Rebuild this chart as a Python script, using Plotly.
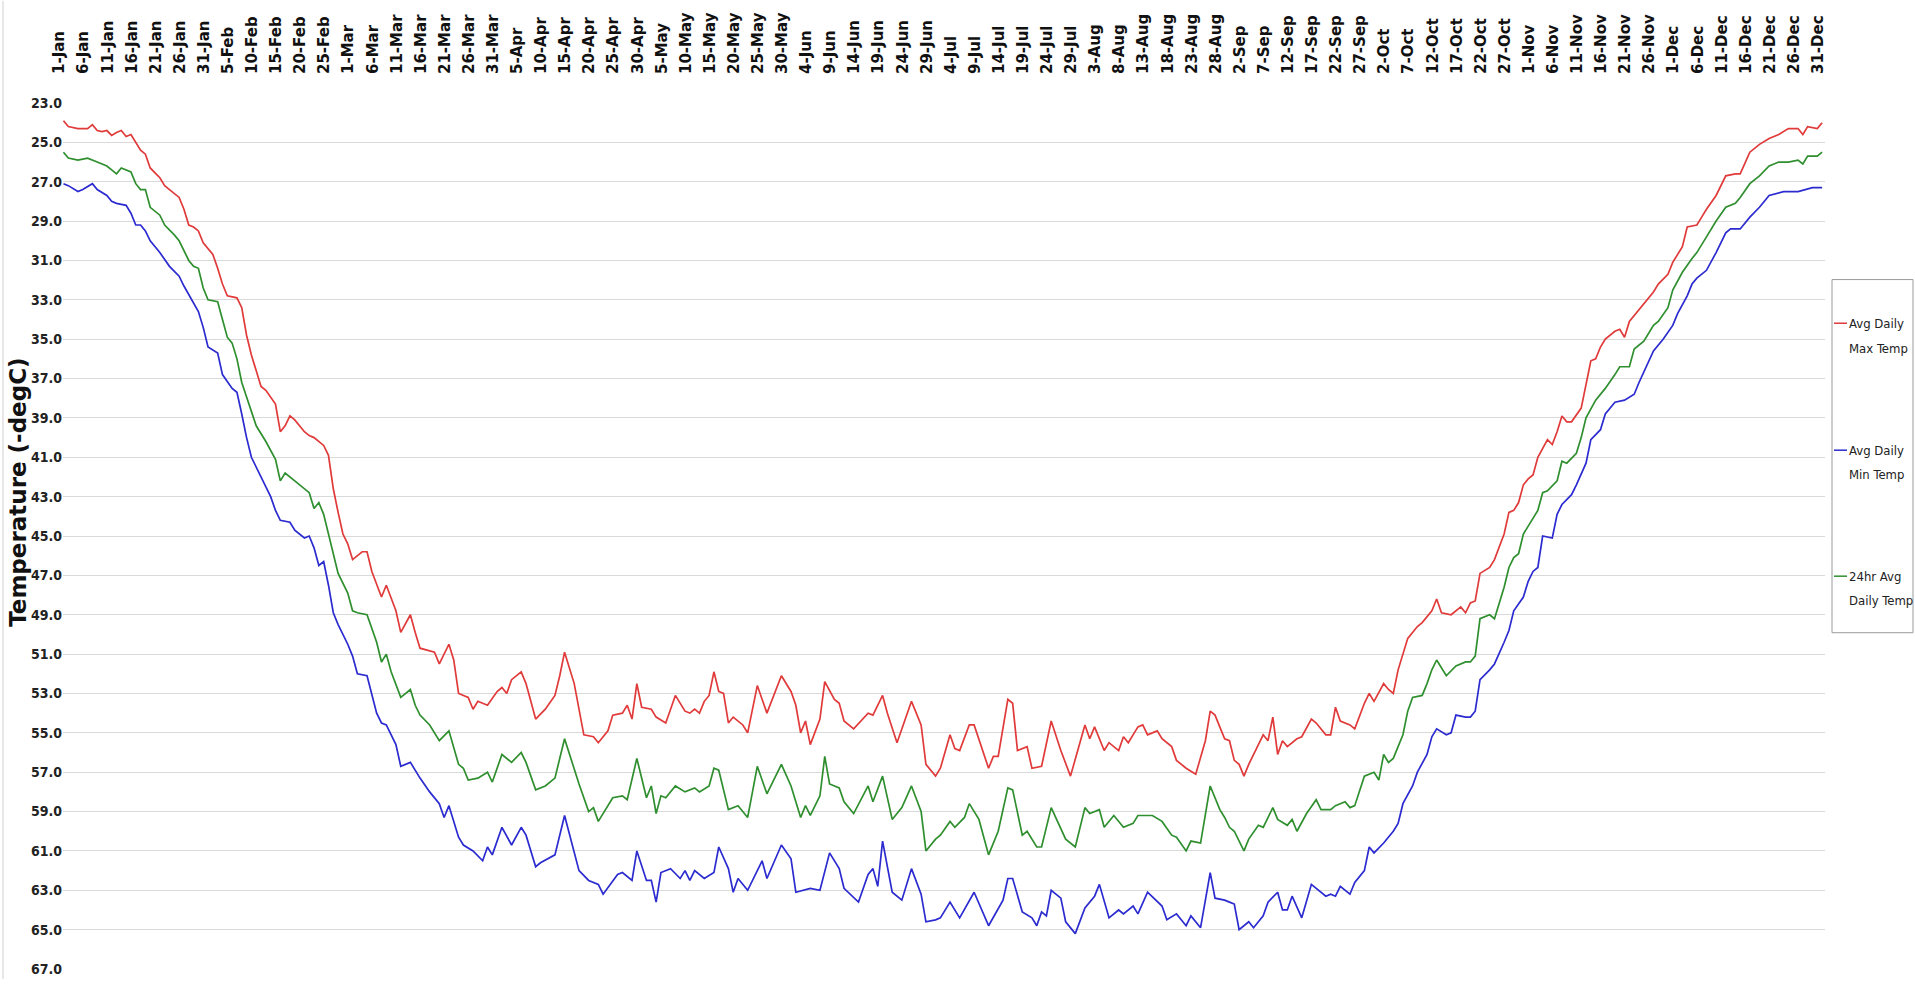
import plotly.graph_objects as go

# ---------------- data ----------------
TICK_LABELS = [
    "1-Jan", "6-Jan", "11-Jan", "16-Jan", "21-Jan", "26-Jan", "31-Jan",
    "5-Feb", "10-Feb", "15-Feb", "20-Feb", "25-Feb",
    "1-Mar", "6-Mar", "11-Mar", "16-Mar", "21-Mar", "26-Mar", "31-Mar",
    "5-Apr", "10-Apr", "15-Apr", "20-Apr", "25-Apr", "30-Apr",
    "5-May", "10-May", "15-May", "20-May", "25-May", "30-May",
    "4-Jun", "9-Jun", "14-Jun", "19-Jun", "24-Jun", "29-Jun",
    "4-Jul", "9-Jul", "14-Jul", "19-Jul", "24-Jul", "29-Jul",
    "3-Aug", "8-Aug", "13-Aug", "18-Aug", "23-Aug", "28-Aug",
    "2-Sep", "7-Sep", "12-Sep", "17-Sep", "22-Sep", "27-Sep",
    "2-Oct", "7-Oct", "12-Oct", "17-Oct", "22-Oct", "27-Oct",
    "1-Nov", "6-Nov", "11-Nov", "16-Nov", "21-Nov", "26-Nov",
    "1-Dec", "6-Dec", "11-Dec", "16-Dec", "21-Dec", "26-Dec", "31-Dec",
]
TICK_DAYS = list(range(0, 366, 5))  # day of year (0 = 1-Jan), leap year

SERIES_NAMES = ["Avg Daily Max Temp", "Avg Daily Min Temp", "24hr Avg Daily Temp"]
LEGEND_LINES = [("Avg Daily", "Max Temp"), ("Avg Daily", "Min Temp"), ("24hr Avg", "Daily Temp")]

MAX_DAYS = [0, 1, 3, 5, 6, 7, 8, 9, 10, 11, 12, 13, 14, 16, 17, 18, 20, 21, 22, 24, 25, 26, 27, 28, 29, 31, 32, 33, 34, 36,
            37, 38, 39, 40, 41, 42, 44, 45, 46, 47, 48, 50, 51, 52, 54, 55, 56, 57, 58, 59, 60, 62, 63, 64, 66, 67, 69, 70, 72, 73,
            74, 77, 78, 80, 81, 82, 84, 85, 86, 88, 90, 91, 92, 93, 95, 96, 98, 100, 102, 103, 104, 106, 107, 108, 110, 111, 113, 114, 116, 117,
            118, 119, 120, 122, 123, 125, 127, 129, 130, 131, 132, 133, 134, 135, 136, 137, 138, 139, 141, 142, 144, 146, 149, 151, 152, 153, 154, 155, 157, 158,
            160, 161, 162, 164, 167, 168, 170, 171, 173, 176, 178, 179, 181, 182, 184, 185, 186, 188, 189, 191, 192, 193, 194, 196, 197, 198, 200, 201, 203, 205,
            207, 209, 212, 213, 214, 216, 217, 219, 220, 221, 223, 224, 225, 227, 228, 230, 231, 233, 235, 237, 238, 239, 241, 242, 243, 244, 245, 246, 248, 249,
            250, 251, 252, 253, 254, 256, 257, 259, 260, 262, 263, 264, 265, 267, 268, 270, 271, 272, 274, 275, 276, 277, 279, 281, 282, 284, 285, 286, 288, 290,
            291, 292, 293, 294, 296, 297, 299, 300, 301, 302, 303, 304, 305, 306, 308, 309, 310, 311, 312, 313, 315, 316, 317, 318, 319, 320, 322, 323, 324, 325,
            327, 328, 330, 331, 333, 334, 336, 337, 339, 340, 341, 343, 345, 347, 348, 350, 352, 354, 356, 358, 360, 361, 362, 364, 365]
MAX_TEMP = [23.9, 24.2, 24.3, 24.3, 24.1, 24.4, 24.45, 24.4, 24.65, 24.5, 24.4, 24.7, 24.6, 25.4, 25.6, 26.3, 26.8, 27.2, 27.4, 27.8, 28.4, 29.2, 29.3, 29.5, 30.1, 30.7, 31.4, 32.2, 32.8, 32.9,
            33.4, 34.8, 35.8, 36.6, 37.4, 37.6, 38.3, 39.7, 39.4, 38.9, 39.1, 39.7, 39.9, 40.0, 40.4, 40.9, 42.6, 43.8, 44.9, 45.4, 46.2, 45.8, 45.8, 46.8, 48.1, 47.5, 48.8, 49.9, 49.0, 49.9,
            50.7, 50.9, 51.5, 50.5, 51.3, 53.0, 53.2, 53.8, 53.4, 53.6, 52.9, 52.7, 53.0, 52.3, 51.9, 52.5, 54.3, 53.8, 53.1, 52.1, 50.9, 52.5, 53.8, 55.1, 55.2, 55.5, 54.9, 54.1, 54.0, 53.6,
            54.3, 52.5, 53.7, 53.8, 54.2, 54.5, 53.1, 53.9, 54.0, 53.8, 54.0, 53.4, 53.1, 51.9, 52.9, 53.0, 54.5, 54.2, 54.6, 55.0, 52.6, 54.0, 52.1, 52.9, 53.6, 55.0, 54.4, 55.6, 54.3, 52.4,
            53.3, 53.5, 54.4, 54.8, 54.0, 54.1, 53.1, 54.0, 55.5, 53.4, 54.6, 56.6, 57.2, 56.8, 55.1, 55.8, 55.9, 54.6, 54.6, 56.1, 56.8, 56.2, 56.2, 53.3, 53.5, 55.9, 55.7, 56.8, 56.7, 54.4,
            55.9, 57.2, 54.6, 55.3, 54.7, 55.9, 55.5, 55.9, 55.2, 55.5, 54.7, 54.6, 55.1, 54.9, 55.3, 55.7, 56.4, 56.8, 57.1, 55.4, 53.9, 54.1, 55.3, 55.4, 56.4, 56.6, 57.2, 56.6, 55.6, 55.1,
            55.4, 54.2, 56.1, 55.4, 55.7, 55.3, 55.2, 54.3, 54.5, 55.1, 55.1, 53.7, 54.4, 54.6, 54.8, 53.5, 53.0, 53.4, 52.5, 52.8, 53.0, 51.8, 50.2, 49.6, 49.4, 48.8, 48.2, 48.9, 49.0, 48.6,
            48.9, 48.4, 48.3, 46.9, 46.6, 46.2, 44.9, 43.8, 43.7, 43.3, 42.4, 42.1, 41.9, 41.0, 40.1, 40.35, 39.7, 38.9, 39.2, 39.2, 38.5, 37.2, 36.1, 36.0, 35.4, 35.0, 34.6, 34.5, 34.9, 34.1,
            33.5, 33.2, 32.6, 32.2, 31.7, 31.1, 30.3, 29.3, 29.2, 28.8, 28.4, 27.7, 26.7, 26.6, 26.6, 25.5, 25.1, 24.8, 24.6, 24.3, 24.3, 24.6, 24.2, 24.3, 24.0]

MIN_DAYS = [0, 1, 3, 4, 6, 7, 9, 10, 11, 13, 14, 15, 16, 17, 18, 20, 22, 24, 25, 27, 28, 29, 30, 32, 33, 35, 36, 37, 38, 39,
            41, 43, 44, 45, 47, 48, 50, 51, 52, 53, 54, 55, 56, 57, 59, 60, 61, 63, 65, 66, 67, 69, 70, 72, 74, 76, 78, 79, 80, 82,
            83, 85, 87, 88, 89, 91, 93, 95, 96, 98, 99, 102, 104, 107, 109, 111, 112, 115, 116, 118, 119, 121, 122, 123, 124, 126, 128, 129, 130, 131,
            133, 135, 136, 138, 139, 140, 142, 145, 146, 149, 151, 152, 155, 157, 159, 161, 162, 165, 167, 168, 169, 170, 172, 174, 176, 178, 179, 181, 182, 184,
            186, 189, 192, 195, 196, 197, 199, 201, 202, 203, 204, 205, 207, 208, 210, 212, 214, 215, 217, 219, 220, 222, 223, 225, 228, 229, 231, 233, 234, 236,
            237, 238, 239, 241, 242, 243, 244, 246, 247, 249, 250, 252, 253, 254, 255, 257, 259, 261, 262, 263, 264, 265, 267, 268, 270, 271, 272, 274, 276, 277,
            278, 280, 281, 283, 284, 285, 287, 288, 289, 291, 292, 293, 294, 296, 297, 299, 300, 301, 303, 304, 305, 306, 307, 309, 310, 311, 313, 314, 316, 317,
            319, 320, 322, 324, 326, 327, 329, 330, 332, 334, 335, 337, 338, 339, 341, 343, 345, 346, 348, 350, 352, 354, 357, 360, 363, 365]
MIN_TEMP = [27.1, 27.2, 27.5, 27.4, 27.1, 27.4, 27.7, 28.0, 28.1, 28.2, 28.6, 29.2, 29.2, 29.5, 30.0, 30.6, 31.3, 31.8, 32.3, 33.2, 33.6, 34.4, 35.4, 35.7, 36.8, 37.5, 37.7, 38.8, 40.0, 41.0,
            42.0, 43.0, 43.7, 44.2, 44.3, 44.7, 45.1, 45.0, 45.6, 46.5, 46.3, 47.5, 48.9, 49.5, 50.5, 51.1, 52.0, 52.1, 54.0, 54.5, 54.6, 55.6, 56.7, 56.5, 57.3, 58.0, 58.6, 59.3, 58.7, 60.3,
            60.7, 61.0, 61.5, 60.8, 61.2, 59.8, 60.7, 59.8, 60.2, 61.8, 61.6, 61.2, 59.2, 62.0, 62.5, 62.7, 63.2, 62.2, 62.1, 62.5, 61.0, 62.5, 62.5, 63.6, 62.1, 61.9, 62.4, 62.0, 62.5, 62.0,
            62.4, 62.1, 60.8, 61.9, 63.1, 62.4, 63.0, 61.5, 62.4, 60.7, 61.4, 63.1, 62.9, 63.0, 61.1, 61.9, 62.9, 63.6, 62.2, 61.9, 62.8, 60.5, 63.1, 63.5, 61.9, 63.2, 64.6, 64.5, 64.4, 63.6,
            64.4, 63.1, 64.8, 63.5, 62.4, 62.4, 64.1, 64.4, 64.8, 64.1, 64.3, 63.0, 63.4, 64.6, 65.2, 63.9, 63.3, 62.7, 64.4, 64.0, 64.2, 63.8, 64.2, 63.1, 63.8, 64.5, 64.2, 64.8, 64.3, 64.9,
            63.5, 62.1, 63.4, 63.5, 63.6, 63.7, 65.0, 64.6, 64.9, 64.3, 63.6, 63.1, 64.0, 64.0, 63.3, 64.4, 62.7, 63.1, 63.3, 63.2, 63.3, 62.8, 63.2, 62.6, 62.0, 60.8, 61.1, 60.6, 60.0, 59.6,
            58.6, 57.7, 57.0, 56.1, 55.2, 54.8, 55.1, 55.0, 54.1, 54.2, 54.2, 53.9, 52.3, 51.8, 51.5, 50.4, 49.8, 48.8, 48.1, 47.3, 46.8, 46.6, 45.0, 45.1, 43.9, 43.4, 42.9, 42.4, 41.3, 40.1,
            39.6, 38.8, 38.2, 38.1, 37.8, 37.2, 36.1, 35.6, 35.0, 34.3, 33.7, 32.8, 32.2, 31.9, 31.5, 30.6, 29.6, 29.4, 29.4, 28.8, 28.3, 27.7, 27.5, 27.5, 27.3, 27.3]

AVG_DAYS = [0, 1, 3, 5, 7, 9, 10, 11, 12, 14, 15, 16, 17, 18, 20, 21, 23, 24, 26, 27, 28, 29, 30, 32, 33, 34, 35, 36, 37, 39,
            40, 42, 44, 45, 46, 48, 50, 51, 52, 53, 54, 56, 57, 59, 60, 61, 63, 65, 66, 67, 68, 70, 72, 73, 74, 76, 78, 80, 82, 83,
            84, 86, 88, 89, 91, 93, 95, 96, 98, 100, 102, 104, 107, 109, 110, 111, 113, 114, 116, 117, 119, 121, 122, 123, 124, 125, 127, 129, 131, 132,
            134, 135, 136, 138, 140, 142, 144, 146, 149, 151, 153, 154, 155, 157, 158, 159, 161, 162, 164, 167, 168, 170, 172, 174, 176, 178, 179, 181, 182, 184,
            185, 187, 188, 190, 192, 194, 196, 197, 199, 200, 202, 203, 205, 208, 210, 212, 213, 215, 216, 218, 220, 222, 223, 226, 228, 230, 231, 233, 234, 236,
            238, 240, 241, 242, 243, 245, 246, 248, 249, 251, 252, 254, 255, 256, 258, 260, 261, 263, 264, 266, 267, 268, 270, 272, 273, 274, 275, 276, 278, 279,
            280, 282, 283, 284, 285, 287, 289, 291, 292, 293, 294, 296, 297, 299, 300, 301, 302, 303, 304, 306, 307, 308, 310, 311, 312, 314, 315, 316, 318, 320,
            322, 323, 325, 326, 328, 330, 331, 333, 334, 336, 338, 339, 341, 343, 345, 347, 348, 350, 352, 354, 356, 358, 360, 361, 362, 364, 365]
AVG_TEMP = [25.5, 25.8, 25.9, 25.8, 26.0, 26.2, 26.4, 26.6, 26.3, 26.5, 27.1, 27.4, 27.4, 28.3, 28.7, 29.2, 29.7, 30.0, 31.0, 31.3, 31.4, 32.4, 33.0, 33.1, 34.0, 34.9, 35.2, 36.0, 37.2, 38.6,
            39.4, 40.2, 41.1, 42.2, 41.8, 42.2, 42.6, 42.8, 43.6, 43.3, 43.9, 45.8, 46.9, 47.9, 48.8, 48.9, 49.0, 50.4, 51.4, 51.0, 51.9, 53.2, 52.8, 53.6, 54.1, 54.6, 55.4, 54.9, 56.6, 56.8,
            57.4, 57.3, 57.0, 57.5, 56.1, 56.5, 56.0, 56.5, 57.9, 57.7, 57.3, 55.3, 57.6, 59.0, 58.8, 59.5, 58.7, 58.3, 58.2, 58.4, 56.3, 58.3, 57.7, 59.1, 58.2, 58.3, 57.7, 58.0, 57.8, 58.0,
            57.7, 56.8, 56.9, 58.9, 58.7, 59.3, 56.7, 58.1, 56.6, 57.7, 59.3, 58.7, 59.2, 58.2, 56.2, 57.6, 57.8, 58.5, 59.1, 57.7, 58.5, 57.2, 59.4, 58.8, 57.7, 59.0, 61.0, 60.4, 60.2, 59.5,
            59.8, 59.3, 58.6, 59.4, 61.2, 60.0, 57.8, 57.9, 60.2, 60.0, 60.8, 60.8, 58.8, 60.4, 60.8, 58.8, 59.1, 58.9, 59.8, 59.2, 59.8, 59.6, 59.2, 59.2, 59.5, 60.2, 60.3, 61.0, 60.5, 60.6,
            57.7, 58.9, 59.3, 59.8, 60.0, 61.0, 60.4, 59.7, 59.8, 58.8, 59.4, 59.7, 59.4, 60.0, 59.1, 58.4, 58.9, 58.9, 58.7, 58.5, 58.8, 58.7, 57.2, 57.0, 57.4, 56.1, 56.5, 56.3, 55.1, 53.9,
            53.2, 53.1, 52.5, 51.8, 51.3, 52.1, 51.6, 51.4, 51.4, 51.1, 49.2, 49.0, 49.2, 47.6, 46.6, 46.1, 45.9, 44.9, 44.5, 43.7, 42.8, 42.7, 42.2, 41.2, 41.3, 40.8, 40.0, 39.0, 38.1, 37.5,
            36.8, 36.4, 36.4, 35.5, 35.1, 34.3, 34.1, 33.4, 32.5, 31.6, 30.9, 30.6, 29.8, 29.0, 28.3, 28.1, 27.8, 27.1, 26.7, 26.2, 26.0, 26.0, 25.9, 26.1, 25.7, 25.7, 25.5]

COLORS = ["#e03a3a", "#2b2bd0", "#2f8f2f"]

# ---------------- layout geometry (pixels of the 1915x987 page) ----------------
W, H = 1915, 987
PL, PR, PT, PB = 63, 1825, 102, 977   # plot area edges
NARROW = "Liberation Sans Narrow, DejaVu Sans Condensed, Arial Narrow, sans-serif"


def px(x):
    return (x - PL) / (PR - PL)


def py(y):
    return (PB - y) / (PB - PT)


fig = go.Figure()
for name, days, vals, col in [
    (SERIES_NAMES[0], MAX_DAYS, MAX_TEMP, COLORS[0]),
    (SERIES_NAMES[1], MIN_DAYS, MIN_TEMP, COLORS[1]),
    (SERIES_NAMES[2], AVG_DAYS, AVG_TEMP, COLORS[2]),
]:
    fig.add_trace(go.Scatter(x=days, y=vals, mode="lines", name=name,
                             line=dict(color=col, width=1.7), showlegend=False))

fig.update_layout(
    width=W, height=H,
    margin=dict(l=PL, r=W - PR, t=PT, b=H - PB),
    paper_bgcolor="white", plot_bgcolor="white",
    xaxis=dict(
        side="top", range=[-0.1, 365.6], tickmode="array",
        tickvals=TICK_DAYS, ticktext=TICK_LABELS, tickangle=-90,
        tickfont=dict(family="DejaVu Sans", size=15, color="#111", weight="bold"),
        ticks="", showgrid=False, zeroline=False, showline=False,
        ticklabelstandoff=27, ticklabelshift=-4,
    ),
    yaxis=dict(
        range=[67.05, 22.95], tick0=23, dtick=2, tickformat=".1f",
        tickfont=dict(family=NARROW, size=14, color="#222", weight="bold"),
        showgrid=True, gridcolor="#d9d9d9", gridwidth=1,
        zeroline=False, showline=False, ticks="",
    ),
)

# y axis title
fig.add_annotation(text="Temperature (-degC)", xref="paper", yref="paper",
                   x=px(18), y=py(496), xanchor="center", yanchor="middle",
                   textangle=-90, showarrow=False,
                   font=dict(family="DejaVu Sans", size=23, color="#111", weight="bold"))

# left image frame line
fig.add_shape(type="line", xref="paper", yref="paper", x0=px(3), x1=px(3), y0=py(986), y1=py(0),
              line=dict(color="#cfcfcf", width=1))

# legend box (drawn by hand so that it fits in the narrow right margin)
fig.add_shape(type="rect", xref="paper", yref="paper", x0=px(1832), x1=px(1913), y0=py(637), y1=py(281),
              line=dict(color="#9a9a9a", width=1), fillcolor="white")
LEG_Y = [325, 453, 580]
for (l1, l2), col, ly in zip(LEGEND_LINES, COLORS, LEG_Y):
    fig.add_shape(type="line", xref="paper", yref="paper", x0=px(1834), x1=px(1847), y0=py(ly), y1=py(ly),
                  line=dict(color=col, width=1.5))
    for k, txt in enumerate((l1, l2)):
        fig.add_annotation(text=txt, xref="paper", yref="paper", x=px(1847), y=py(ly + 25 * k),
                           xanchor="left", yanchor="middle", align="left", showarrow=False,
                           font=dict(family=NARROW, size=13, color="#222"))

fig.write_html("out.html", config={"displayModeBar": False},
               post_script="document.body.style.margin='0px';document.body.style.overflow='hidden';")
